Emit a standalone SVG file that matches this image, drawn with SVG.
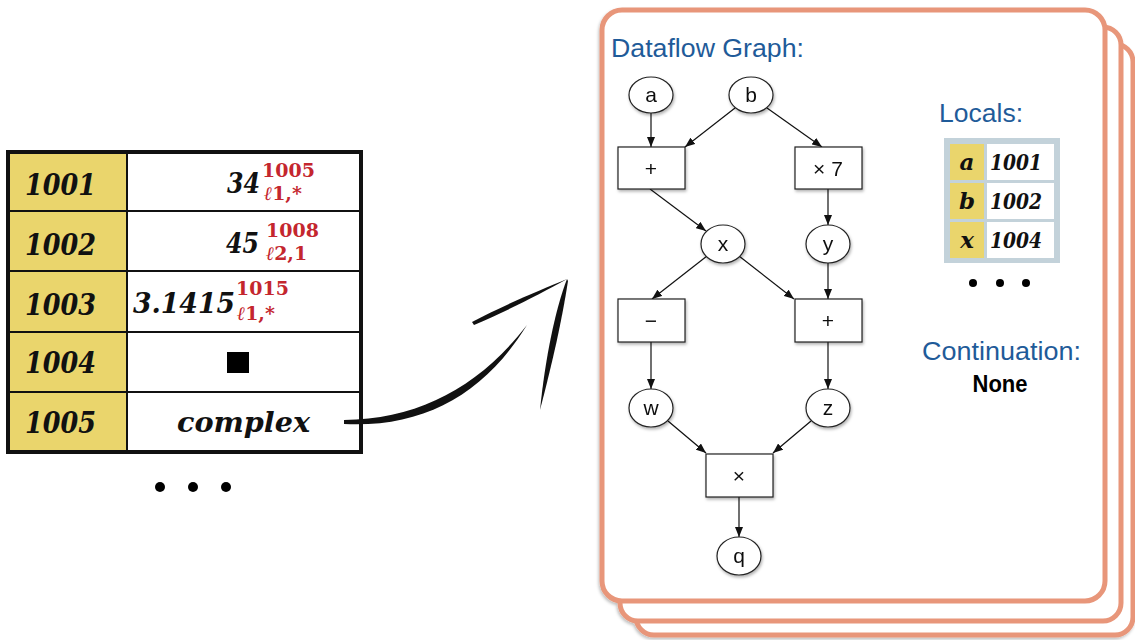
<svg xmlns="http://www.w3.org/2000/svg" width="1135" height="640" viewBox="0 0 1135 640">
  <defs>
    <style>
      .card { fill: #ffffff; stroke: #E8967A; stroke-width: 5; }
      .cell-key { fill: #EAD56C; }
      .cell-val { fill: #ffffff; }
      .grid { stroke: #111; stroke-width: 2; fill: none; }
      .mem { font-family: "DejaVu Serif", "Liberation Serif", serif; font-weight: bold; font-style: italic; fill: #111; }
      .tag { font-family: "DejaVu Serif", "Liberation Serif", serif; font-weight: bold; fill: #C4262E; font-size: 19px; }
      .ell { font-style: italic; }
      .title { font-family: "Liberation Sans", Arial, sans-serif; font-size: 26.5px; fill: #1F5B99; }
      .node ellipse, .node rect { fill: #ffffff; stroke: #222; stroke-width: 1.2; }
      .node text { font-family: "Liberation Sans", Arial, sans-serif; font-size: 21px; fill: #111; text-anchor: middle; }
      .edge { stroke: #111; stroke-width: 1.2; fill: none; marker-end: url(#head); }
      .brush { fill: #111; }
    </style>
    <marker id="head" viewBox="0 0 10 8" markerWidth="10" markerHeight="8" refX="10" refY="4" orient="auto" markerUnits="userSpaceOnUse">
      <path d="M0,0 L10,4 L0,8 z" fill="#111"/>
    </marker>
    <filter id="shadow" x="-20%" y="-20%" width="140%" height="150%">
      <feDropShadow dx="1" dy="2" stdDeviation="1.4" flood-color="#000" flood-opacity="0.3"/>
    </filter>
    <filter id="cardShadow" x="-5%" y="-5%" width="110%" height="110%">
      <feDropShadow dx="-1" dy="2" stdDeviation="1.5" flood-color="#000" flood-opacity="0.25"/>
    </filter>
  </defs>

  <!-- memory table -->
  <g id="memory">
    <rect x="8" y="152" width="119" height="300" class="cell-key"/>
    <rect x="127" y="152" width="234" height="300" class="cell-val"/>
    <line x1="127" y1="152" x2="127" y2="452" class="grid"/>
    <line x1="8" y1="211" x2="361" y2="211" class="grid"/>
    <line x1="8" y1="271" x2="361" y2="271" class="grid"/>
    <line x1="8" y1="332" x2="361" y2="332" class="grid"/>
    <line x1="8" y1="392" x2="361" y2="392" class="grid"/>
    <rect x="8" y="152" width="353" height="300" fill="none" stroke="#111" stroke-width="4"/>

    <g class="mem" font-size="29">
      <text x="25" y="195" textLength="71" lengthAdjust="spacingAndGlyphs">1001</text>
      <text x="25" y="255" textLength="71" lengthAdjust="spacingAndGlyphs">1002</text>
      <text x="25" y="315" textLength="71" lengthAdjust="spacingAndGlyphs">1003</text>
      <text x="25" y="373" textLength="71" lengthAdjust="spacingAndGlyphs">1004</text>
      <text x="25" y="433" textLength="71" lengthAdjust="spacingAndGlyphs">1005</text>
    </g>

    <!-- row 1001: value with address / label tag -->
    <text class="mem" font-size="27" x="227" y="193" textLength="33" lengthAdjust="spacingAndGlyphs">34</text>
    <text class="tag" x="262" y="177">1005<tspan x="264" y="200"><tspan class="ell">ℓ</tspan>1,*</tspan></text>
    <!-- row 1002 -->
    <text class="mem" font-size="27" x="226" y="253" textLength="33" lengthAdjust="spacingAndGlyphs">45</text>
    <text class="tag" x="266" y="237">1008<tspan x="266" y="260"><tspan class="ell">ℓ</tspan>2,1</tspan></text>
    <!-- row 1003 -->
    <text class="mem" font-size="27" x="133" y="313" textLength="102" lengthAdjust="spacingAndGlyphs">3.1415</text>
    <text class="tag" x="236" y="295">1015<tspan x="237" y="320"><tspan class="ell">ℓ</tspan>1,*</tspan></text>
    <!-- row 1004 -->
    <rect x="227" y="352" width="22" height="21" fill="#000"/>
    <!-- row 1005 -->
    <text class="mem" font-size="28" x="177" y="432" textLength="133" lengthAdjust="spacingAndGlyphs">complex</text>

    <circle cx="160" cy="487" r="5" fill="#000"/>
    <circle cx="193" cy="487" r="5" fill="#000"/>
    <circle cx="226" cy="487" r="5" fill="#000"/>
  </g>

  <!-- brush arrow -->
  <g id="pointer">
    <path class="brush" d="M344,420 C 420,419 480,386 527,325 C 485,393 425,428 344,424 Z"/>
    <path class="brush" d="M472,322 C 500,307 540,290 567,279 C 540,294 505,312 474,325 Z"/>
    <path class="brush" d="M567,279 C 555,310 545,360 540,410 C 553,360 562,320 568,281 Z"/>
  </g>

  <!-- stacked frames -->
  <g id="frames" filter="url(#cardShadow)">
    <rect class="card" x="636" y="44" width="497" height="591" rx="18"/>
    <rect class="card" x="620" y="27" width="501" height="594" rx="18"/>
    <rect class="card" x="602" y="10" width="503" height="591" rx="20"/>
  </g>

  <text class="title" x="611" y="57" textLength="193" lengthAdjust="spacingAndGlyphs">Dataflow Graph:</text>
  <text class="title" x="939" y="122" textLength="84" lengthAdjust="spacingAndGlyphs">Locals:</text>
  <text class="title" x="922" y="360" textLength="159" lengthAdjust="spacingAndGlyphs">Continuation:</text>
  <text x="1000" y="392" text-anchor="middle" font-family="Liberation Sans, Arial, sans-serif" font-weight="bold" font-size="23" textLength="55" lengthAdjust="spacingAndGlyphs" fill="#000">None</text>

  <!-- locals table -->
  <g id="locals">
    <rect x="944" y="138" width="116" height="125" fill="#C3D2DA"/>
    <rect x="950" y="144" width="34" height="36" class="cell-key"/>
    <rect x="987" y="144" width="67" height="36" class="cell-val"/>
    <rect x="950" y="183" width="34" height="36" class="cell-key"/>
    <rect x="987" y="183" width="67" height="36" class="cell-val"/>
    <rect x="950" y="222" width="34" height="36" class="cell-key"/>
    <rect x="987" y="222" width="67" height="36" class="cell-val"/>
    <g class="mem" font-size="23">
      <text x="967" y="170" text-anchor="middle">a</text>
      <text x="967" y="209" text-anchor="middle">b</text>
      <text x="967" y="248" text-anchor="middle">x</text>
      <text x="990" y="170" textLength="52" lengthAdjust="spacingAndGlyphs">1001</text>
      <text x="990" y="209" textLength="52" lengthAdjust="spacingAndGlyphs">1002</text>
      <text x="990" y="248" textLength="52" lengthAdjust="spacingAndGlyphs">1004</text>
    </g>
    <circle cx="973" cy="283" r="4" fill="#000"/>
    <circle cx="1000" cy="283" r="4" fill="#000"/>
    <circle cx="1026" cy="283" r="4" fill="#000"/>
  </g>

  <!-- dataflow connectors -->
  <g id="connectors">
    <path class="edge" d="M651,113 L651,147"/>
    <path class="edge" d="M735,108 L685,147"/>
    <path class="edge" d="M767,108 L822,147"/>
    <path class="edge" d="M650,189 L706,231"/>
    <path class="edge" d="M828,189 L828,225"/>
    <path class="edge" d="M707,256 L652,299"/>
    <path class="edge" d="M739,256 L794,299"/>
    <path class="edge" d="M828,263 L828,299"/>
    <path class="edge" d="M651,342 L651,389"/>
    <path class="edge" d="M828,342 L828,389"/>
    <path class="edge" d="M668,421 L706,453"/>
    <path class="edge" d="M811,421 L773,453"/>
    <path class="edge" d="M739,497 L739,537"/>
  </g>

  <!-- dataflow nodes -->
  <g id="node-a" class="node" filter="url(#shadow)">
    <ellipse cx="651" cy="95" rx="22" ry="18"/>
    <text x="651" y="102">a</text>
  </g>
  <g id="node-b" class="node" filter="url(#shadow)">
    <ellipse cx="751" cy="95" rx="22" ry="18"/>
    <text x="751" y="102">b</text>
  </g>
  <g id="node-add1" class="node" filter="url(#shadow)">
    <rect x="618" y="147" width="67" height="42"/>
    <text x="651" y="176">+</text>
  </g>
  <g id="node-mul7" class="node" filter="url(#shadow)">
    <rect x="795" y="147" width="67" height="42"/>
    <text x="828" y="176">× 7</text>
  </g>
  <g id="node-x" class="node" filter="url(#shadow)">
    <ellipse cx="723" cy="244" rx="22" ry="19"/>
    <text x="723" y="251">x</text>
  </g>
  <g id="node-y" class="node" filter="url(#shadow)">
    <ellipse cx="828" cy="244" rx="22" ry="19"/>
    <text x="828" y="251">y</text>
  </g>
  <g id="node-sub" class="node" filter="url(#shadow)">
    <rect x="618" y="299" width="67" height="43"/>
    <text x="651" y="328">−</text>
  </g>
  <g id="node-add2" class="node" filter="url(#shadow)">
    <rect x="795" y="299" width="67" height="43"/>
    <text x="828" y="328">+</text>
  </g>
  <g id="node-w" class="node" filter="url(#shadow)">
    <ellipse cx="651" cy="408" rx="22" ry="19"/>
    <text x="651" y="415">w</text>
  </g>
  <g id="node-z" class="node" filter="url(#shadow)">
    <ellipse cx="828" cy="408" rx="22" ry="19"/>
    <text x="828" y="415">z</text>
  </g>
  <g id="node-mul" class="node" filter="url(#shadow)">
    <rect x="706" y="454" width="67" height="43"/>
    <text x="739" y="483">×</text>
  </g>
  <g id="node-q" class="node" filter="url(#shadow)">
    <ellipse cx="739" cy="556" rx="22" ry="19"/>
    <text x="739" y="563">q</text>
  </g>
</svg>
